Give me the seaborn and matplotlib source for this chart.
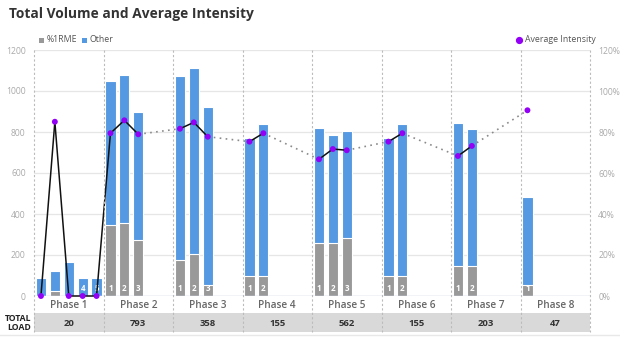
import matplotlib
matplotlib.use("Agg")
import matplotlib.pyplot as plt
from matplotlib.patches import Rectangle
from matplotlib.lines import Line2D
import seaborn as sns
import pandas as pd

# ---- data -------------------------------------------------------------
phases = ["Phase 1", "Phase 2", "Phase 3", "Phase 4",
          "Phase 5", "Phase 6", "Phase 7", "Phase 8"]
total_load = [20, 793, 358, 155, 562, 155, 203, 47]

bar_phase = [1, 1, 1, 1, 1, 2, 2, 2, 3, 3, 3, 4, 4, 5, 5, 5, 6, 6, 7, 7, 8]
bar_session = [1, 2, 3, 4, 5, 1, 2, 3, 1, 2, 3, 1, 2, 1, 2, 3, 1, 2, 1, 2, 1]
rme_volume = [0, 23, 0, 0, 0, 345, 355, 272, 174, 203, 52, 99, 99,
              258, 258, 284, 99, 99, 145, 145, 52]
other_volume = [88, 100, 164, 88, 88, 704, 725, 624, 901, 911, 870, 670, 739,
                563, 526, 522, 670, 739, 700, 671, 431]
avg_intensity = [0, 85, 0, 0, 0, 79.4, 85.7, 78.9, 81.6, 84.7, 77.7, 75.3, 79.4,
                 66.7, 71.7, 71.1, 75.3, 79.4, 68.3, 73.2, 90.6]
session_label_shown = [False, False, False, True, True] + [True] * 16
# link style between the last session of a phase and the first of the next
phase_links = ["solid", "dotted", "dotted", "dotted", "dotted", "dotted", "dotted"]

SLOTS = 5  # bar slots reserved per phase

# ---- style ------------------------------------------------------------
BLUE = "#5499e1"
GREY = "#999999"
PURPLE = "#9300f5"
TICK = "#aaaaaa"

sns.set_theme(style="white")
plt.rcParams["font.family"] = ["Open Sans", "DejaVu Sans"]

W, H = 620, 337
fig = plt.figure(figsize=(W / 100, H / 100), dpi=100)
x0, x1, y_top, y_zero = 34, 590, 50, 296
ax = fig.add_axes([x0 / W, 1 - y_zero / H, (x1 - x0) / W, (y_zero - y_top) / H])
ax2 = ax.twinx()

df = pd.DataFrame({
    "phase": bar_phase, "session": bar_session,
    "rme": rme_volume, "other": other_volume, "intensity": avg_intensity,
})
df["total"] = df["rme"] + df["other"]
df["pos"] = (df["phase"] - 1) * SLOTS + (df["session"] - 1) + 0.5

# stacked bars: full height in blue, lower %1RME part in grey over it
sns.barplot(data=df, x="pos", y="total", native_scale=True, color=BLUE,
            saturation=1, width=0.74, edgecolor="white", linewidth=0.8, ax=ax,
            zorder=2)
sns.barplot(data=df, x="pos", y="rme", native_scale=True, color=GREY,
            saturation=1, width=0.74, edgecolor="white", linewidth=0.8, ax=ax,
            zorder=3)

ax.set_xlim(0, SLOTS * len(phases))
ax.set_ylim(0, 1200)
ax.set_yticks(range(0, 1201, 200))
ax.set_xticks([])
ax.set_xlabel("")
ax.set_ylabel("")
ax.grid(axis="y", color="#e6e6e6", linewidth=0.9, zorder=0)
ax.set_axisbelow(True)
for s in ax.spines.values():
    s.set_visible(False)
ax.axhline(0, color="#ccd6eb", linewidth=1.0, zorder=4)
ax.tick_params(axis="y", length=0, pad=6, labelsize=6.2, labelcolor=TICK)

# session numbers at the foot of each bar
for p, lab, show in zip(df["pos"], df["session"], session_label_shown):
    if show:
        ax.text(p, 14, str(lab), ha="center", va="bottom", color="white",
                fontsize=5.8, fontweight="bold", zorder=5)

# intensity line on the right axis
ax2.set_ylim(0, 120)
ax2.set_yticks(range(0, 121, 20))
ax2.set_yticklabels([f"{v}%" for v in range(0, 121, 20)])
ax2.tick_params(axis="y", length=0, pad=6, labelsize=6.2, labelcolor=TICK)
for s in ax2.spines.values():
    s.set_visible(False)
ax2.grid(False)

link_i = 0
for i in range(len(df) - 1):
    a, b = df.iloc[i], df.iloc[i + 1]
    if a["phase"] == b["phase"]:
        style = "solid"
    else:
        style = phase_links[link_i]
        link_i += 1
    seg = pd.DataFrame({"x": [a["pos"], b["pos"]], "y": [a["intensity"], b["intensity"]]})
    if style == "solid":
        sns.lineplot(data=seg, x="x", y="y", ax=ax2, color="#111111",
                     linewidth=1.1, zorder=5)
    else:
        sns.lineplot(data=seg, x="x", y="y", ax=ax2, color="#8a8a8a",
                     linewidth=1.2, linestyle=(0, (1, 2.6)), zorder=5)

sns.scatterplot(data=df, x="pos", y="intensity", ax=ax2, color=PURPLE, s=18,
                edgecolor="none", zorder=6, legend=False)
for art in list(ax2.lines) + list(ax2.collections):
    art.set_clip_on(False)
ax2.set_xlabel("")
ax2.set_ylabel("")
ax2.set_xlim(0, SLOTS * len(phases))

# phase separators, table band and labels (pixel layout helpers)
def fx(px):
    return px / W

def fy(py):
    return 1 - py / H

band_top, band_bot = 313, 332
fig.patches.append(Rectangle((fx(x0), fy(band_bot)), fx(x1) - fx(x0),
                             fy(band_top) - fy(band_bot),
                             transform=fig.transFigure, facecolor="#d9d9d9",
                             edgecolor="none", zorder=0))
fig.add_artist(Line2D([0, 1], [fy(335), fy(335)], transform=fig.transFigure,
                      color="#e8e8e8", linewidth=1))

phase_w = (x1 - x0) / len(phases)
for k in range(len(phases) + 1):
    xp = x0 + k * phase_w
    fig.add_artist(Line2D([fx(xp), fx(xp)], [fy(y_top), fy(band_bot)],
                          transform=fig.transFigure, color="#bbbbbb",
                          linewidth=0.8, linestyle=(0, (2, 2)), zorder=10))

for k, (name, load) in enumerate(zip(phases, total_load)):
    xc = x0 + (k + 0.5) * phase_w
    fig.text(fx(xc), fy(305), name, ha="center", va="center", fontsize=7.2,
             fontweight="semibold", color="#666666")
    fig.text(fx(xc), fy(323), str(load), ha="center", va="center", fontsize=6.8,
             fontweight="bold", color="#333333")

fig.text(fx(31), fy(323), "TOTAL\nLOAD", ha="right", va="center", fontsize=6.2,
         fontweight="bold", color="#222222", linespacing=1.05)

# title
fig.text(fx(9), fy(14), "Total Volume and Average Intensity", ha="left",
         va="center", fontsize=9.9, fontweight="bold", color="#333333")

# legends
for px, col, lab in [(39, GREY, "%1RME"), (82, BLUE, "Other")]:
    fig.patches.append(Rectangle((fx(px), fy(43)), 5 / W, 5 / H,
                                 transform=fig.transFigure, facecolor=col,
                                 edgecolor="none"))
    fig.text(fx(px + 8), fy(40), lab, ha="left", va="center", fontsize=6.3,
             color="#555555")

fig.add_artist(Line2D([fx(519)], [fy(40)], transform=fig.transFigure,
                      marker="o", markersize=4.2, color=PURPLE, linestyle="none"))
fig.text(fx(525), fy(40), "Average Intensity", ha="left", va="center",
         fontsize=6.3, color="#555555")

fig.savefig("out.png", dpi=100)
